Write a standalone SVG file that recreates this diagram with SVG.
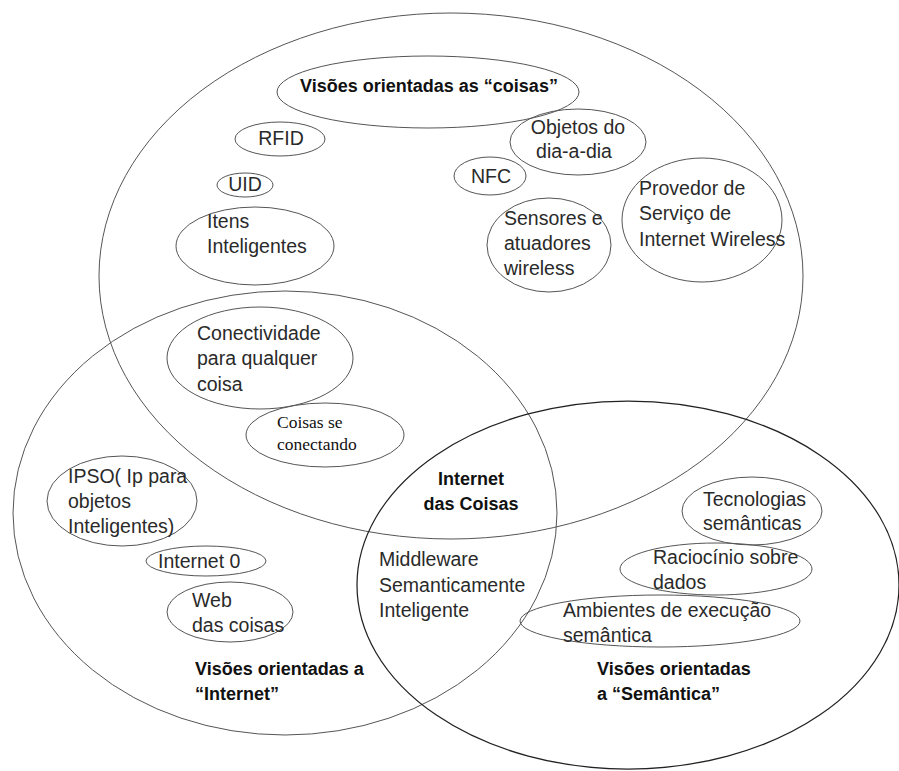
<svg xmlns="http://www.w3.org/2000/svg" width="899" height="771" viewBox="0 0 899 771">
<style>
  .big { fill: none; stroke: #555; stroke-width: 1; }
  .sem { fill: none; stroke: #222; stroke-width: 1.25; }
  .sm { fill: none; stroke: #555; stroke-width: 1; }
  .t { font-family: "Liberation Sans", Arial, sans-serif; font-size: 19.5px; fill: #2a2a2a; }
  .b { font-family: "Liberation Sans", Arial, sans-serif; font-size: 18px; font-weight: bold; fill: #111; }
  .s { font-family: "Liberation Serif", "Times New Roman", serif; font-size: 17.5px; fill: #111; }
</style>
<rect width="899" height="771" fill="#ffffff"/>

<g id="region-coisas">
  <ellipse class="big" cx="451" cy="276" rx="352" ry="263"/>
</g>
<g id="region-internet">
  <ellipse class="big" cx="285" cy="513" rx="272" ry="222"/>
  <text class="b" x="195" y="675">Visões orientadas a</text>
  <text class="b" x="195" y="700">“Internet”</text>
</g>
<g id="region-semantica">
  <ellipse class="sem" cx="628" cy="585" rx="271" ry="184"/>
  <text class="b" x="597" y="675">Visões orientadas</text>
  <text class="b" x="597" y="700">a “Semântica”</text>
</g>

<g id="title-coisas">
  <ellipse class="sm" cx="428" cy="92" rx="151" ry="36"/>
  <text class="b" x="429" y="92" text-anchor="middle">Visões orientadas as “coisas”</text>
</g>
<g id="rfid">
  <ellipse class="sm" cx="280" cy="139" rx="45" ry="17"/>
  <text class="t" x="281" y="145" text-anchor="middle">RFID</text>
</g>
<g id="uid">
  <ellipse class="sm" cx="245" cy="185" rx="28" ry="12"/>
  <text class="t" x="245" y="191" text-anchor="middle">UID</text>
</g>
<g id="itens">
  <ellipse class="sm" cx="255" cy="246" rx="79" ry="39"/>
  <text class="t" x="207" y="228">Itens</text>
  <text class="t" x="207" y="253">Inteligentes</text>
</g>
<g id="objetos">
  <ellipse class="sm" cx="578" cy="142" rx="68" ry="33"/>
  <text class="t" x="578" y="134" text-anchor="middle">Objetos do</text>
  <text class="t" x="574" y="158" text-anchor="middle">dia-a-dia</text>
</g>
<g id="nfc">
  <ellipse class="sm" cx="490" cy="176" rx="36" ry="19"/>
  <text class="t" x="491" y="183" text-anchor="middle">NFC</text>
</g>
<g id="sensores">
  <ellipse class="sm" cx="549" cy="245" rx="62" ry="47"/>
  <text class="t" x="504" y="225">Sensores e</text>
  <text class="t" x="504" y="250">atuadores</text>
  <text class="t" x="504" y="275">wireless</text>
</g>
<g id="provedor">
  <ellipse class="sm" cx="702" cy="220" rx="80" ry="62"/>
  <text class="t" x="639" y="195">Provedor de</text>
  <text class="t" x="639" y="220">Serviço de</text>
  <text class="t" x="639" y="246">Internet Wireless</text>
</g>
<g id="conectividade">
  <ellipse class="sm" cx="260" cy="358" rx="93" ry="51"/>
  <text class="t" x="197" y="340">Conectividade</text>
  <text class="t" x="197" y="365">para qualquer</text>
  <text class="t" x="197" y="391">coisa</text>
</g>
<g id="coisas-conectando">
  <ellipse class="sm" cx="325" cy="435" rx="79" ry="32"/>
  <text class="s" x="277" y="428">Coisas se</text>
  <text class="s" x="277" y="450">conectando</text>
</g>
<g id="internet-das-coisas">
  <text class="b" x="471" y="485" text-anchor="middle">Internet</text>
  <text class="b" x="471" y="510" text-anchor="middle">das Coisas</text>
</g>
<g id="middleware">
  <text class="t" x="379" y="566">Middleware</text>
  <text class="t" x="379" y="592">Semanticamente</text>
  <text class="t" x="379" y="617">Inteligente</text>
</g>
<g id="ipso">
  <ellipse class="sm" cx="122" cy="501" rx="75" ry="45"/>
  <text class="t" x="68" y="483">IPSO( Ip para</text>
  <text class="t" x="68" y="508">objetos</text>
  <text class="t" x="68" y="533">Inteligentes)</text>
</g>
<g id="internet0">
  <ellipse class="sm" cx="206" cy="561" rx="60" ry="15"/>
  <text class="t" x="158" y="568">Internet 0</text>
</g>
<g id="web">
  <ellipse class="sm" cx="230" cy="612" rx="63" ry="30"/>
  <text class="t" x="192" y="607">Web</text>
  <text class="t" x="192" y="632">das coisas</text>
</g>
<g id="tecnologias">
  <ellipse class="sm" cx="752" cy="511" rx="70" ry="34"/>
  <text class="t" x="703" y="506">Tecnologias</text>
  <text class="t" x="703" y="530">semânticas</text>
</g>
<g id="raciocinio">
  <ellipse class="sm" cx="716" cy="569" rx="96" ry="26"/>
  <text class="t" x="653" y="564">Raciocínio sobre</text>
  <text class="t" x="653" y="589">dados</text>
</g>
<g id="ambientes">
  <ellipse class="sm" cx="660" cy="621" rx="140" ry="26"/>
  <text class="t" x="563" y="617">Ambientes de execução</text>
  <text class="t" x="563" y="642">semântica</text>
</g>
<g id="connectors"></g>
</svg>
